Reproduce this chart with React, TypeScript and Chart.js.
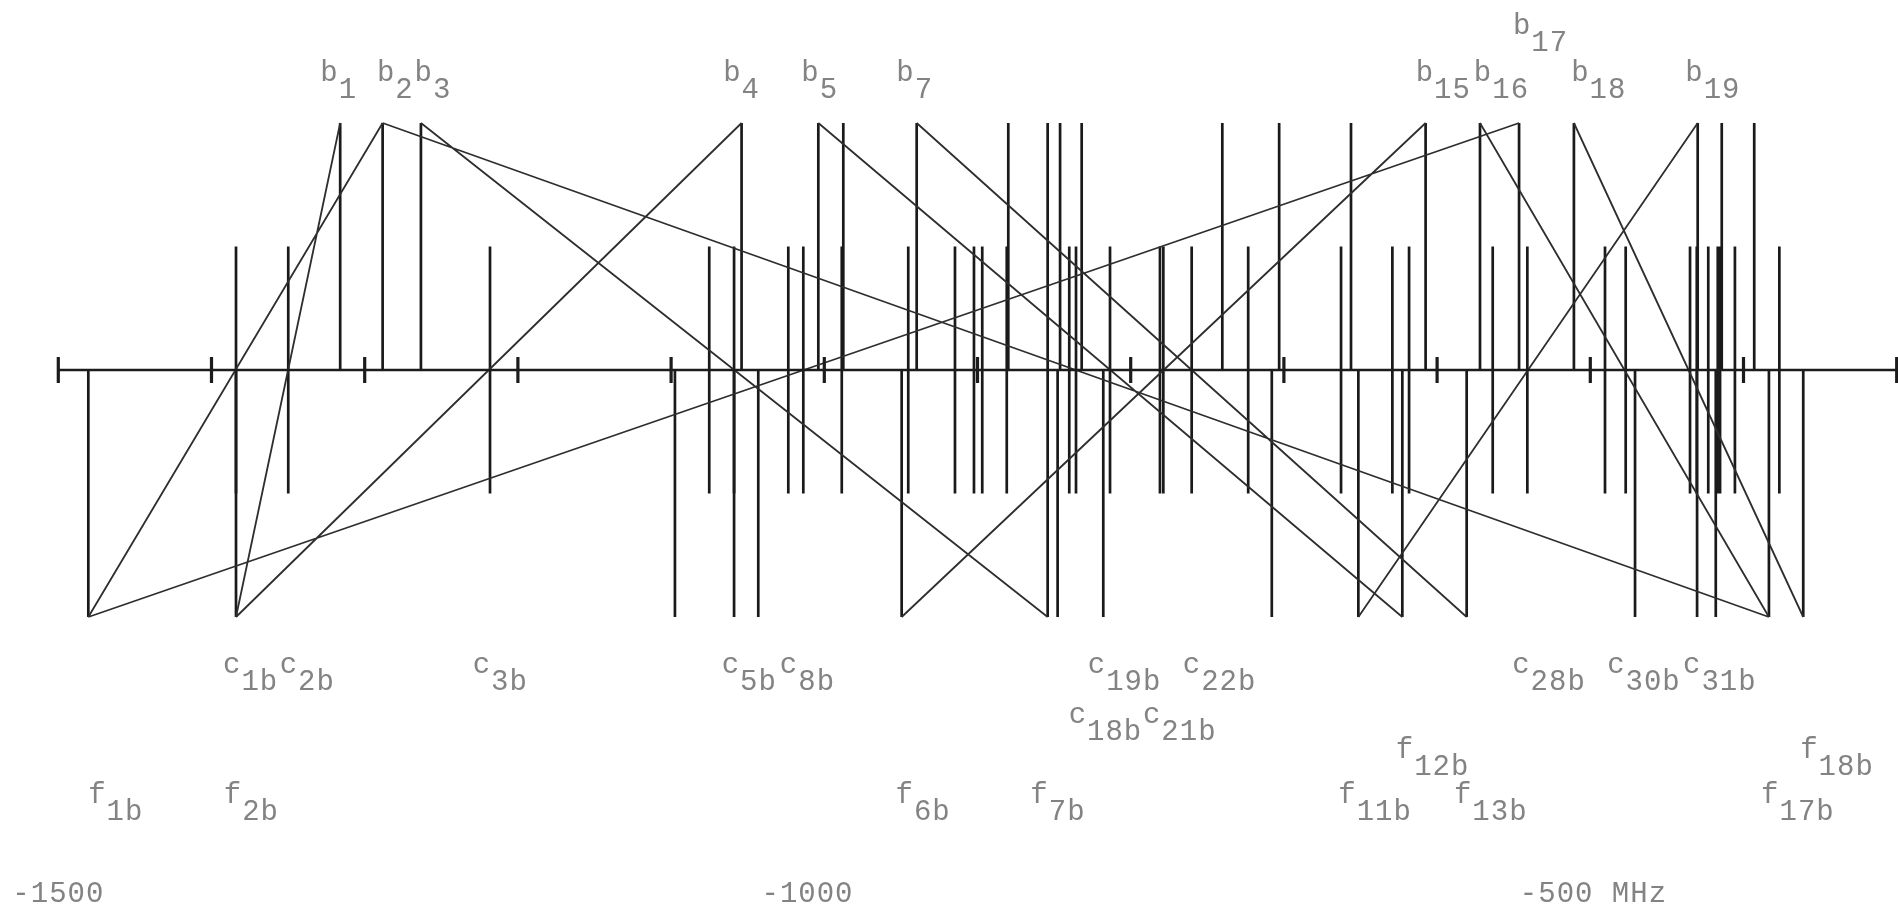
import React, { useEffect, useRef } from "react";
import { Chart, registerables } from "chart.js";

Chart.register(...registerables);

// Frequency axis (MHz)
const X_MIN = -1500;
const X_MAX = -300;
const TICKS = [-1500, -1400, -1300, -1200, -1100, -1000, -900, -800, -700, -600, -500, -400, -300];
const TICK_LABELS = ["-1500", "-1000", "-500 MHz"];
const TICK_LABEL_AT = [-1530, -1041, -546];

// Line heights (relative units)
const B_LEVEL = 2;
const C_LEVEL = 1;
const F_LEVEL = -2;

// Tall lines above the axis (b)
const B_LINES = [-1316, -1288.3, -1263.3, -1054, -1003.9, -987.6, -939.7, -879.9, -854.2, -846.1, -832, -740.2, -703.1, -656.2, -607.5, -572, -546.5, -510.7, -429.9, -414.2, -393];
// Short lines crossing the axis (c)
const C_LINES = [-1384, -1349.9, -1218.2, -1075.1, -1058.9, -1023.5, -1013.7, -988.6, -945.2, -914.7, -902.3, -896.9, -880.9, -840.1, -835.7, -813.5, -780.9, -778.7, -760.2, -723.3, -662.7, -629.2, -618.3, -563.7, -541.1, -490.4, -476.9, -434.9, -430.5, -423, -416.8, -415.3, -405.6, -376.6];
// Long lines below the axis (f)
const F_LINES = [-1480.4, -1384, -1097.5, -1058.9, -1043.1, -949.5, -854.2, -847.7, -817.9, -707.9, -651.4, -622.7, -580.7, -470.8, -430.3, -418.1, -383.4, -361];

// Diagonal links: b line top -> f line bottom
const LINK_B = [-1288.3, -546.5, -1316, -1054, -1288.3, -1263.3, -1003.9, -939.7, -607.5, -572, -510.7, -429.9];
const LINK_F = [-1480.4, -1480.4, -1384, -1384, -383.4, -854.2, -622.7, -580.7, -949.5, -383.4, -361, -651.4];

// Labels: letter, subscript, left edge (MHz), row
const B_LABELS = [
  ["b", "1", -1329, 1], ["b", "2", -1292, 1], ["b", "3", -1267.5, 1], ["b", "4", -1066, 1],
  ["b", "5", -1015, 1], ["b", "7", -953, 1], ["b", "15", -614, 1], ["b", "16", -576, 1],
  ["b", "17", -550.5, 2], ["b", "18", -512.5, 1], ["b", "19", -438, 1],
];
const C_LABELS = [
  ["c", "1b", -1392.5, 1], ["c", "2b", -1355.5, 1], ["c", "3b", -1229.5, 1], ["c", "5b", -1067, 1],
  ["c", "8b", -1029, 1], ["c", "19b", -828, 1], ["c", "22b", -766, 1], ["c", "18b", -840.5, 2],
  ["c", "21b", -792, 2], ["c", "28b", -551, 1], ["c", "30b", -489, 1], ["c", "31b", -439.5, 1],
];
const F_LABELS = [
  ["f", "1b", -1480.5, 1], ["f", "2b", -1392, 1], ["f", "6b", -953.5, 1], ["f", "7b", -865.5, 1],
  ["f", "11b", -664.5, 1], ["f", "12b", -627, 2], ["f", "13b", -589, 1], ["f", "17b", -388.5, 1],
  ["f", "18b", -363, 2],
];

// layout constants (pixels)
const W = 1898;
const H = 911;
const AXIS_PX = 370;
const UNIT_PX = 123.5;
const LEFT_PX = 58.3;
const RIGHT_PX = 1.3;

const rowBase = (kind: string, row: number) => {
  if (kind === "b") return row === 1 ? 81 : 34;
  if (kind === "c") return row === 1 ? 673 : 723;
  return row === 1 ? 803 : 758;
};

function segs(pairs: number[][]) {
  const out: any[] = [];
  for (const p of pairs) {
    out.push({ x: p[0], y: p[1] });
    out.push({ x: p[2], y: p[3] });
    out.push({ x: p[2], y: null });
  }
  return out;
}

export default function App() {
  const ref = useRef<HTMLCanvasElement | null>(null);

  useEffect(() => {
    const canvas = ref.current;
    if (!canvas) return;
    const yMax = AXIS_PX / UNIT_PX;
    const yMin = (AXIS_PX - H) / UNIT_PX;
    const tickHalf = 13 / UNIT_PX;

    const lineStyle = (color: string, width: number) => ({
      borderColor: color,
      backgroundColor: color,
      borderWidth: width,
      pointRadius: 0,
      pointHoverRadius: 0,
      tension: 0,
      fill: false,
      spanGaps: false,
      clip: false as any,
      borderCapStyle: "butt" as const,
    });

    const labelPlugin = {
      id: "stickLabels",
      afterDatasetsDraw(chart: any) {
        const { ctx } = chart;
        const xs = chart.scales.x;
        ctx.save();
        ctx.fillStyle = "#838383";
        ctx.font = '29px "Liberation Mono", "DejaVu Sans Mono", monospace';
        try { (ctx as any).letterSpacing = "1px"; } catch (e) {}
        ctx.textAlign = "left";
        ctx.textBaseline = "alphabetic";
        const draw = (arr: any[], kind: string) => {
          for (const [t, s, at, row] of arr) {
            const px = xs.getPixelForValue(at);
            const base = rowBase(kind, row);
            ctx.fillText(t, px, base);
            const w = ctx.measureText(t).width;
            ctx.fillText(s, px + w, base + 17);
          }
        };
        draw(B_LABELS, "b");
        draw(C_LABELS, "c");
        draw(F_LABELS, "f");
        TICK_LABELS.forEach((txt, i) => {
          ctx.fillText(txt, xs.getPixelForValue(TICK_LABEL_AT[i]), 902);
        });
        ctx.restore();
      },
    };

    const chart = new Chart(canvas, {
      type: "line",
      data: {
        datasets: [
          { label: "axis", data: segs([[X_MIN, 0, X_MAX, 0]]), ...lineStyle("#1c1c1c", 2.6) },
          { label: "ticks", data: segs(TICKS.map((t) => [t, -tickHalf, t, tickHalf])), ...lineStyle("#1c1c1c", 3.2) },
          { label: "links", data: segs(LINK_B.map((b, i) => [b, B_LEVEL, LINK_F[i], F_LEVEL])), ...lineStyle("#2e2e2e", 1.8) },
          { label: "b", data: segs(B_LINES.map((x) => [x, 0, x, B_LEVEL])), ...lineStyle("#1a1a1a", 2.7) },
          { label: "c", data: segs(C_LINES.map((x) => [x, -C_LEVEL, x, C_LEVEL])), ...lineStyle("#1a1a1a", 2.7) },
          { label: "f", data: segs(F_LINES.map((x) => [x, 0, x, F_LEVEL])), ...lineStyle("#1a1a1a", 2.7) },
        ] as any,
      },
      options: {
        animation: false,
        responsive: false,
        maintainAspectRatio: false,
        events: [],
        layout: { padding: { left: LEFT_PX, right: RIGHT_PX, top: 0, bottom: 0 } },
        scales: {
          x: { type: "linear", min: X_MIN, max: X_MAX, display: false },
          y: { type: "linear", min: yMin, max: yMax, display: false },
        },
        plugins: { legend: { display: false }, tooltip: { enabled: false }, title: { display: false } },
      } as any,
      plugins: [labelPlugin],
    });
    return () => chart.destroy();
  }, []);

  return (
    <div style={{ position: "fixed", left: 0, top: 0, width: W, height: H, background: "#ffffff" }}>
      <canvas ref={ref} width={W} height={H} style={{ display: "block", width: W, height: H }} />
    </div>
  );
}
